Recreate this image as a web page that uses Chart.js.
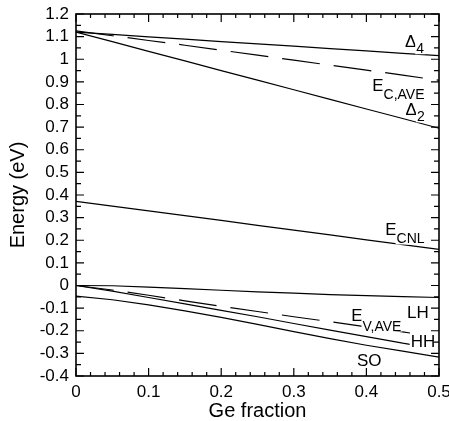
<!DOCTYPE html>
<html>
<head>
<meta charset="utf-8">
<script src="https://cdn.jsdelivr.net/npm/chart.js@4.4.0/dist/chart.umd.min.js"></script>
<style>
html, body { margin: 0; padding: 0; background: #fff; }
</style>
</head>
<body>
<canvas id="bandChart" width="449" height="421"></canvas>
<script>
// Ge fraction
var geFraction = [0, 0.05, 0.1, 0.15, 0.2, 0.25, 0.3, 0.35, 0.4, 0.45, 0.5];
// the E_V,AVE and HH curves stop just short of their labels
var geFractionShort = [0, 0.05, 0.1, 0.15, 0.2, 0.25, 0.3, 0.35, 0.4, 0.45, 0.46];

// conduction band side
var delta4 = [1.12, 1.11, 1.099, 1.089, 1.078, 1.068, 1.058, 1.047, 1.037, 1.026, 1.016];
var eCAve  = [1.125, 1.104, 1.083, 1.062, 1.04, 1.018, 0.996, 0.974, 0.952, 0.93, 0.907];
var delta2 = [1.12, 1.078, 1.035, 0.993, 0.95, 0.908, 0.865, 0.823, 0.78, 0.738, 0.695];
var eCnl   = [0.372, 0.351, 0.33, 0.309, 0.288, 0.266, 0.245, 0.224, 0.202, 0.181, 0.16];

// valence band side
var lh     = [0, -0.001, -0.007, -0.014, -0.021, -0.028, -0.034, -0.04, -0.045, -0.049, -0.053];
var eVAve  = [0, -0.02, -0.043, -0.068, -0.092, -0.115, -0.138, -0.16, -0.183, -0.205, -0.21];
var hh     = [0, -0.025, -0.053, -0.081, -0.11, -0.138, -0.168, -0.197, -0.226, -0.255, -0.26];
var so     = [-0.047, -0.063, -0.086, -0.112, -0.141, -0.172, -0.204, -0.235, -0.264, -0.29, -0.317];

// tick labels
var xTicks = [0, 0.1, 0.2, 0.3, 0.4, 0.5];
var yTicks = [-0.4, -0.3, -0.2, -0.1, 0, 0.1, 0.2, 0.3, 0.4, 0.5, 0.6, 0.7, 0.8, 0.9, 1, 1.1, 1.2];

var FONT = '"Liberation Sans", Arial, Helvetica, sans-serif';

function pts(xs, ys) {
	return xs.map(function(x, i) { return { x: x, y: ys[i] }; });
}

function curve(xs, ys, dashed) {
	return {
		data: pts(xs, ys),
		borderColor: '#000',
		borderWidth: 1.2,
		borderDash: dashed ? [38, 14] : [],
		pointRadius: 0,
		fill: false,
		tension: 0
	};
}

// curve names, written next to the line ends
var curveLabels = [
	{ x: 0.453, y: 1.053, main: '\u0394', sub: '4', dy: 6 },
	{ x: 0.408, y: 0.858, main: 'E', sub: 'C,AVE', dy: 8 },
	{ x: 0.454, y: 0.752, main: '\u0394', sub: '2', dy: 6 },
	{ x: 0.426, y: 0.221, main: 'E', sub: 'CNL', dy: 8 },
	{ x: 0.379, y: -0.155, main: 'E', sub: 'V,AVE', dy: 10 },
	{ x: 0.456, y: -0.142, main: 'LH', sub: '', dy: 0 },
	{ x: 0.461, y: -0.274, main: 'HH', sub: '', dy: 0 },
	{ x: 0.387, y: -0.354, main: 'SO', sub: '', dy: 0 }
];

var labelPlugin = {
	id: 'curveLabels',
	afterDatasetsDraw: function(chart) {
		var ctx = chart.ctx, xs = chart.scales.x, ys = chart.scales.y;
		ctx.save();
		ctx.textBaseline = 'alphabetic';
		ctx.textAlign = 'left';
		curveLabels.forEach(function(l) {
			var px = xs.getPixelForValue(l.x), py = ys.getPixelForValue(l.y);
			ctx.font = '17px ' + FONT;
			var w1 = ctx.measureText(l.main).width;
			ctx.fillStyle = '#fff';
			ctx.fillRect(px - 1, py - 13, w1 + 2, 14);
			ctx.fillStyle = '#000';
			ctx.fillText(l.main, px, py);
			if (l.sub) {
				ctx.font = '14px ' + FONT;
				var w2 = ctx.measureText(l.sub).width;
				ctx.fillStyle = '#fff';
				ctx.fillRect(px + w1 - 1, py + l.dy - 11, w2 + 2, 12);
				ctx.fillStyle = '#000';
				ctx.fillText(l.sub, px + w1, py + l.dy);
			}
		});
		ctx.restore();
	}
};

// box round the plot with inward ticks on all four sides
var framePlugin = {
	id: 'frameTicks',
	afterDraw: function(chart) {
		var ctx = chart.ctx, a = chart.chartArea, xs = chart.scales.x, ys = chart.scales.y;
		ctx.save();
		ctx.strokeStyle = '#000';
		ctx.lineWidth = 1.2;
		ctx.beginPath();
		for (var i = 0; i < xTicks.length; i++) {
			for (var k = 0; k < 5; k++) {
				if (i === xTicks.length - 1 && k > 0) break;
				var px = xs.getPixelForValue(xTicks[i] + k * 0.02);
				var len = k === 0 ? 8 : 4;
				ctx.moveTo(px, a.bottom); ctx.lineTo(px, a.bottom - len);
				ctx.moveTo(px, a.top); ctx.lineTo(px, a.top + len);
			}
		}
		for (var j = 0; j < yTicks.length; j++) {
			for (var m = 0; m < 2; m++) {
				if (j === yTicks.length - 1 && m > 0) break;
				var py = ys.getPixelForValue(yTicks[j] + m * 0.05);
				var ln = m === 0 ? 8 : 5;
				ctx.moveTo(a.left, py); ctx.lineTo(a.left + ln, py);
				ctx.moveTo(a.right, py); ctx.lineTo(a.right - ln, py);
			}
		}
		ctx.stroke();
		ctx.lineWidth = 1.6;
		ctx.strokeRect(a.left, a.top, a.right - a.left, a.bottom - a.top);
		ctx.restore();
	}
};

new Chart(document.getElementById('bandChart'), {
	type: 'line',
	data: {
		datasets: [
			curve(geFraction, delta4, false),
			curve(geFraction, eCAve, true),
			curve(geFraction, delta2, false),
			curve(geFraction, eCnl, false),
			curve(geFraction, lh, false),
			curve(geFractionShort, eVAve, true),
			curve(geFractionShort, hh, false),
			curve(geFraction, so, false)
		]
	},
	options: {
		responsive: false,
		animation: false,
		devicePixelRatio: 1,
		layout: { padding: { top: 14, right: 10, left: 0, bottom: 0 } },
		plugins: { legend: { display: false }, tooltip: { enabled: false } },
		scales: {
			x: {
				type: 'linear',
				min: 0,
				max: 0.5,
				grid: { display: false, drawTicks: false },
				border: { display: false },
				afterBuildTicks: function(s) { s.ticks = xTicks.map(function(v) { return { value: v }; }); },
				afterFit: function(s) { s.height = 45; s.paddingLeft = 0; s.paddingRight = 0; },
				ticks: {
					color: '#000',
					padding: 6,
					maxRotation: 0,
					autoSkip: false,
					font: { family: FONT, size: 17 },
					callback: function(v) { return String(parseFloat(v.toFixed(1))); }
				},
				title: {
					display: true,
					text: 'Ge fraction',
					color: '#000',
					font: { family: FONT, size: 20, lineHeight: 1 },
					padding: { top: 0, bottom: 0 }
				}
			},
			y: {
				type: 'linear',
				min: -0.4,
				max: 1.2,
				grid: { display: false, drawTicks: false },
				border: { display: false },
				afterBuildTicks: function(s) { s.ticks = yTicks.map(function(v) { return { value: v }; }); },
				afterFit: function(s) { s.width = 76; s.paddingTop = 0; s.paddingBottom = 0; },
				ticks: {
					color: '#000',
					padding: 7,
					autoSkip: false,
					font: { family: FONT, size: 17 },
					callback: function(v) { return String(parseFloat(v.toFixed(1))); }
				},
				title: {
					display: true,
					text: 'Energy (eV)',
					color: '#000',
					font: { family: FONT, size: 20, lineHeight: 1.2 },
					padding: { top: 6, bottom: 0 }
				}
			}
		}
	},
	plugins: [labelPlugin, framePlugin]
});
</script>
</body>
</html>
